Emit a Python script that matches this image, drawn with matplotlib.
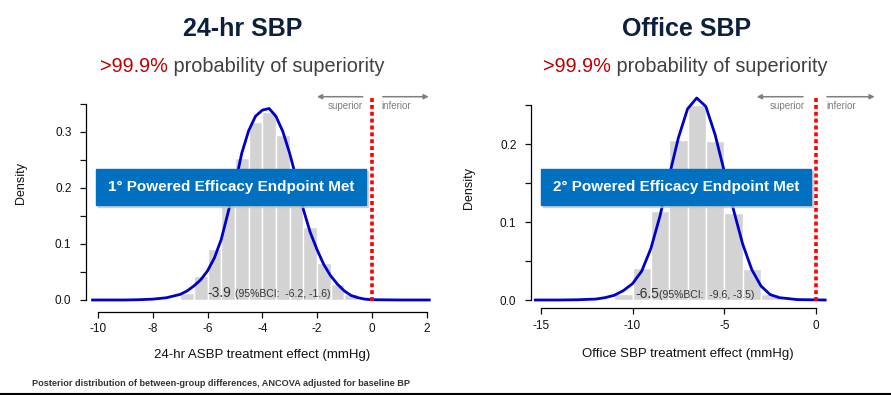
import matplotlib
matplotlib.use('Agg')
import matplotlib.pyplot as plt
from matplotlib import font_manager
from matplotlib.patches import Rectangle
from matplotlib.lines import Line2D

# 24-hr ambulatory SBP: posterior histogram (bin left edges, density) and density curve
abp_bin_left = [-7.0, -6.5, -6.0, -5.5, -5.0, -4.5, -4.0, -3.5, -3.0, -2.5, -2.0, -1.5, -1.0, -0.5]
abp_bin_height = [0.012, 0.042, 0.091, 0.170, 0.254, 0.318, 0.336, 0.295, 0.210, 0.131, 0.066, 0.028, 0.010, 0.002]
abp_curve_x = [-10.2, -9.0, -8.5, -8.0, -7.5, -7.0, -6.75, -6.5, -6.25, -6.0, -5.75, -5.5, -5.25, -5.0,
               -4.75, -4.5, -4.25, -4.0, -3.75, -3.5, -3.25, -3.0, -2.75, -2.5, -2.25, -2.0, -1.75,
               -1.5, -1.25, -1.0, -0.75, -0.5, -0.25, 0.0, 1.0, 2.1]
abp_curve_y = [0.0, 0.0, 0.0005, 0.0015, 0.004, 0.010, 0.016, 0.025, 0.036, 0.052, 0.075, 0.108, 0.156, 0.205,
               0.262, 0.302, 0.328, 0.339, 0.342, 0.328, 0.301, 0.262, 0.216, 0.162, 0.121, 0.090, 0.063,
               0.043, 0.028, 0.016, 0.008, 0.004, 0.0015, 0.0005, 0.0, 0.0]

# Office SBP
off_bin_left = [-11, -10, -9, -8, -7, -6, -5, -4, -3]
off_bin_height = [0.008, 0.041, 0.114, 0.205, 0.250, 0.204, 0.112, 0.040, 0.008]
off_curve_x = [-15.3, -14.0, -13.0, -12.0, -11.5, -11.0, -10.5, -10.0, -9.5, -9.0, -8.5, -8.0, -7.5, -7.0,
               -6.5, -6.0, -5.5, -5.0, -4.5, -4.0, -3.5, -3.0, -2.5, -2.0, -1.0, 0.5]
off_curve_y = [0.0, 0.0, 0.0003, 0.0012, 0.003, 0.006, 0.012, 0.021, 0.037, 0.066, 0.108, 0.159, 0.208, 0.245,
               0.259, 0.248, 0.212, 0.165, 0.116, 0.072, 0.039, 0.018, 0.007, 0.003, 0.0005, 0.0]

abp_xticks = [-10, -8, -6, -4, -2, 0, 2]
abp_yticks = [0, 0.05, 0.1, 0.15, 0.2, 0.25, 0.3, 0.35]
abp_ylabels = ['0.0', '', '0.1', '', '0.2', '', '0.3', '']
off_xticks = [-15, -10, -5, 0]
off_yticks = [0, 0.05, 0.1, 0.15, 0.2, 0.25]
off_ylabels = ['0.0', '', '0.1', '', '0.2', '']

# fonts
names = {f.name for f in font_manager.fontManager.ttflist}
narrow = 'Liberation Sans Narrow' in names
base = 'Liberation Sans'
nar = 'Liberation Sans Narrow' if narrow else base
plt.rcParams['font.family'] = [base, 'DejaVu Sans']

W, H = 891, 395
fig = plt.figure(figsize=(W / 100, H / 100), dpi=100)


def fx(px):
    return px / W


def fy(py):
    return 1 - py / H


def style_axes(ax, xticks, yticks, ylabels, xb, yb):
    for s in ['top', 'right']:
        ax.spines[s].set_visible(False)
    ax.spines['left'].set_bounds(*yb)
    ax.spines['bottom'].set_bounds(*xb)
    for s in ['left', 'bottom']:
        ax.spines[s].set_linewidth(0.9)
    ax.set_xticks(xticks)
    ax.set_xticklabels([str(t) for t in xticks])
    ax.set_yticks(yticks)
    ax.set_yticklabels(ylabels)
    ax.tick_params(axis='both', length=4.3, width=0.9, labelsize=8.5, colors='#111111')
    ax.tick_params(axis='x', pad=4)
    ax.tick_params(axis='y', pad=6)
    ax.patch.set_alpha(0)


# ---- left panel ----
ax1 = fig.add_axes([fx(85.7), fy(311.8), 346.3 / W, 219 / H])
ax1.bar(abp_bin_left, abp_bin_height, width=0.5, align='edge', color='#d3d3d3', edgecolor='white', linewidth=1)
ax1.plot(abp_curve_x, abp_curve_y, color='#0000cc', lw=2)
ax1.plot([0, 0], [-0.002, 0.364], color='#ff0000', lw=2.6, linestyle=(0, (1.1, 0.8)), clip_on=False)
ax1.set_xlim(-10.45, 2.2)
ax1.set_ylim(-0.0211, 0.37)
style_axes(ax1, abp_xticks, abp_yticks, abp_ylabels, (-10, 2), (0, 0.35))
ax1.set_ylabel('Density', fontsize=9, color='#111111')
ax1.yaxis.set_label_coords(-0.17, 0.59)
ax1.set_xlabel('24-hr ASBP treatment effect (mmHg)', fontsize=9.5, color='#111111')
ax1.xaxis.set_label_coords(0.51, -0.172)

# ---- right panel ----
ax2 = fig.add_axes([fx(530.7), fy(308.3), 301.8 / W, 218.9 / H])
ax2.bar(off_bin_left, off_bin_height, width=1, align='edge', color='#d3d3d3', edgecolor='white', linewidth=1)
ax2.plot(off_curve_x, off_curve_y, color='#0000cc', lw=2)
ax2.plot([0, 0], [-0.0015, 0.261], color='#ff0000', lw=2.6, linestyle=(0, (1.1, 0.8)), clip_on=False)
ax2.set_xlim(-15.55, 0.9)
ax2.set_ylim(-0.01064, 0.27)
style_axes(ax2, off_xticks, off_yticks, off_ylabels, (-15, 0), (0, 0.25))
ax2.set_ylabel('Density', fontsize=9, color='#111111')
ax2.yaxis.set_label_coords(-0.185, 0.55)
ax2.set_xlabel('Office SBP treatment effect (mmHg)', fontsize=9.5, color='#111111')
ax2.xaxis.set_label_coords(0.52, -0.182)

# superior / inferior arrows
arrow = dict(arrowstyle='-|>', color='#7f7f7f', lw=1.1, mutation_scale=7, shrinkA=0, shrinkB=0)
for ax, yk, sup, inf, txt_y, tl, tr in [
        (ax1, 0.363, (-0.33, -2.0), (0.40, 2.08), 0.346, -0.33, 0.35),
        (ax2, 0.2606, (-0.71, -3.23), (0.6, 3.2), 0.249, -0.6, 0.58)]:
    ax.annotate('', xy=(sup[1], yk), xytext=(sup[0], yk), arrowprops=arrow, annotation_clip=False)
    ax.annotate('', xy=(inf[1], yk), xytext=(inf[0], yk), arrowprops=arrow, annotation_clip=False)
    ax.text(tl, txt_y, 'superior', ha='right', va='center', fontsize=7, color='#7f7f7f', clip_on=False)
    ax.text(tr, txt_y, 'inferior', ha='left', va='center', fontsize=7, color='#7f7f7f', clip_on=False)

# estimate annotations
ax1.text(-6.02, 0.005, '-3.9', fontsize=10, color='#333333', ha='left', va='baseline')
ax1.text(-5.0, 0.005, '(95%BCI:  -6.2, -1.6)', fontsize=7.5, color='#333333', ha='left', va='baseline')
ax2.text(-9.86, 0.003, '-6.5', fontsize=10, color='#333333', ha='left', va='baseline')
ax2.text(-8.54, 0.003, '(95%BCI:  -9.6, -3.5)', fontsize=7.5, color='#333333', ha='left', va='baseline')

# blue endpoint boxes
box_fs = 13.5 if narrow else 11
for x0, x1, label in [(96, 366, '1° Powered Efficacy Endpoint Met'),
                      (541, 811, '2° Powered Efficacy Endpoint Met')]:
    fig.add_artist(Rectangle((fx(x0 + 2), fy(207)), (x1 - x0) / W, 36 / H,
                             transform=fig.transFigure, color='#c4c4c4', alpha=0.7, zorder=5))
    fig.add_artist(Rectangle((fx(x0), fy(205)), (x1 - x0) / W, 36 / H,
                             transform=fig.transFigure, color='#0070c0', zorder=6))
    fig.text(fx((x0 + x1) / 2), fy(187.5), label, ha='center', va='center', color='white',
             fontsize=box_fs, fontweight='bold', family=[nar, 'DejaVu Sans'], zorder=7)

# titles
title_fs = 20 if narrow else 18
fig.text(fx(242.5), fy(29), '24-hr SBP', ha='center', va='center', fontsize=title_fs,
         fontweight='bold', color='#0c1f3d', family=[nar, 'DejaVu Sans'])
fig.text(fx(686.5), fy(29), 'Office SBP', ha='center', va='center', fontsize=title_fs,
         fontweight='bold', color='#0c1f3d', family=[nar, 'DejaVu Sans'])

# subtitles with red prefix
renderer = fig.canvas.get_renderer()
for cx in [242.5, 685]:
    t1 = fig.text(0, fy(67), '>99.9%', ha='left', va='center', fontsize=14.3, color='#c00000')
    t2 = fig.text(0, fy(67), ' probability of superiority', ha='left', va='center', fontsize=14.3,
                  color='#404040')
    w1 = t1.get_window_extent(renderer).width
    w2 = t2.get_window_extent(renderer).width
    left = cx - (w1 + w2) / 2
    t1.set_x(fx(left))
    t2.set_x(fx(left + w1))

# footer
foot_fs = 8 if narrow else 6.6
fig.text(fx(32), fy(383), 'Posterior distribution of between-group differences, ANCOVA adjusted for baseline BP',
         ha='left', va='center', fontsize=foot_fs, fontweight='bold', color='#333333',
         family=[nar, 'DejaVu Sans'])
fig.add_artist(Line2D([0, 1], [fy(394), fy(394)], transform=fig.transFigure, color='black', lw=1.5))

fig.savefig('out.png', dpi=100)
